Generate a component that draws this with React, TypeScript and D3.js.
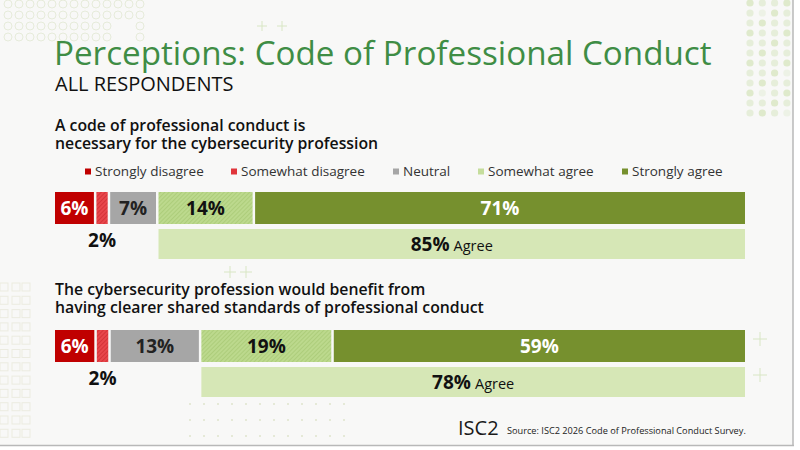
import React from "react";
import * as d3 from "d3";

const categories = ["Strongly disagree", "Somewhat disagree", "Neutral", "Somewhat agree", "Strongly agree"];
const questionLines = [
  ["A code of professional conduct is", "necessary for the cybersecurity profession"],
  ["The cybersecurity profession would benefit from", "having clearer shared standards of professional conduct"],
];
const q1Values = [6, 2, 7, 14, 71];
const q2Values = [6, 2, 13, 19, 59];
const agreeTotals = [85, 78];
const title = "Perceptions: Code of Professional Conduct";
const subtitle = "ALL RESPONDENTS";
const sourceText = "Source: ISC2 2026 Code of Professional Conduct Survey.";

// styling / layout
const W = 800;
const H = 450;
const FONT = "'Open Sans', 'Noto Sans', sans-serif";
const colors = ["#c00000", "url(#hatchRed)", "#a6a6a6", "url(#hatchGreen)", "#76902e"];
const legendColors = ["#c00000", "#e0353b", "#a6a6a6", "#c5dd9c", "#76902e"];
const labelColors = ["#ffffff", "#111111", "#222222", "#111111", "#ffffff"];
const legendX = [85, 231, 393, 478, 622];
const rowTops = [192, 330];
const questionBaselines = [131, 294.5];

function Decorations() {
  const circles: JSX.Element[] = [];
  d3.range(0, 13).forEach((i) =>
    d3.range(0, 4).forEach((j) => {
      if (j > 1 && i > 9 && i < 12) return;
      circles.push(
        <circle key={`c${i}-${j}`} cx={8 + i * 11} cy={4 + j * 11} r={4} fill="none" stroke="#e6ebda" strokeWidth={1} />
      );
    })
  );
  const squares: JSX.Element[] = [];
  d3.range(0, 12).forEach((j) =>
    [0, 12, 22].forEach((x, i) =>
      squares.push(
        <rect key={`s${i}-${j}`} x={x} y={283 + j * 13.3} width={8} height={8} fill="none" stroke="#ebebe0" strokeWidth={1} />
      )
    )
  );
  const dots: JSX.Element[] = [];
  d3.range(0, 4).forEach((i) =>
    d3.range(0, 12).forEach((j) => {
      const op = (i + j) % 3 === 0 ? 0.9 : (i * j) % 4 === 1 ? 0.35 : 0.6;
      dots.push(<circle key={`d${i}-${j}`} cx={750 + i * 12.3} cy={3 + j * 10} r={3.6} fill="#dbe8c6" opacity={op} />);
    })
  );
  const small: JSX.Element[] = [];
  d3.range(0, 12).forEach((i) =>
    d3.range(0, 3).forEach((j) =>
      small.push(<circle key={`m${i}-${j}`} cx={190 + i * 14} cy={404 + j * 16} r={1} fill="#dfe4cc" />)
    )
  );
  const plus = (x: number, y: number, k: string, s = 6) => (
    <g key={k} stroke="#d8e6c4" strokeWidth={1}>
      <line x1={x - s} x2={x + s} y1={y} y2={y} />
      <line x1={x} x2={x} y1={y - s} y2={y + s} />
    </g>
  );
  return (
    <g>
      {circles}
      {squares}
      {dots}
      {small}
      {plus(262, 26, "p1", 5)}
      {plus(282, 26, "p2", 5)}
      {plus(760, 339, "p3", 7)}
      {plus(760, 375, "p4", 7)}
      {plus(230, 272, "p5", 6)}
      {plus(246, 272, "p6", 6)}
    </g>
  );
}

function Row({ values, idx }: { values: number[]; idx: number }) {
  const total = d3.sum(values);
  const x = d3.scaleLinear().domain([0, total]).range([55, 745]);
  const cum = d3.cumsum(values);
  const starts = values.map((v, i) => cum[i] - v);
  const top = rowTops[idx];
  const barH = 32;
  const gap = 2.5;
  const agreeTop = top + 37;
  const agreeH = 30;
  const agreeStart = x(starts[3]);
  const agreeEnd = x(total);
  return (
    <g>
      <text y={questionBaselines[idx]} fontSize={15.8} fontWeight={600} fill="#111" fontFamily={FONT}>
        {questionLines[idx].map((t, i) => (
          <tspan key={i} x={55} dy={i === 0 ? 0 : 18}>
            {t}
          </tspan>
        ))}
      </text>
      {values.map((v, i) => {
        const x0 = x(starts[i]);
        const x1 = x(cum[i]) - (i < values.length - 1 ? gap : 0);
        const cx = (x0 + x1) / 2;
        return (
          <g key={i}>
            <rect x={x0} y={top} width={x1 - x0} height={barH} fill={colors[i]} />
            {i === 1 ? (
              <text x={cx} y={top + barH + 23} textAnchor="middle" fontSize={19} fontWeight={700} fill="#111" fontFamily={FONT}>
                {v}%
              </text>
            ) : (
              <text x={cx} y={top + barH / 2 + 7} textAnchor="middle" fontSize={19} fontWeight={700} fill={labelColors[i]} fontFamily={FONT}>
                {v}%
              </text>
            )}
          </g>
        );
      })}
      <rect x={agreeStart} y={agreeTop} width={agreeEnd - agreeStart} height={agreeH} fill="#d6e7b6" />
      <text x={(agreeStart + agreeEnd) / 2} y={agreeTop + agreeH / 2 + 6.5} textAnchor="middle" fontFamily={FONT} fill="#111">
        <tspan fontSize={19} fontWeight={700}>{agreeTotals[idx]}%</tspan>
        <tspan fontSize={14.5} dx={4}>Agree</tspan>
      </text>
    </g>
  );
}

export default function App() {
  return (
    <svg width={W} height={H} style={{ position: "absolute", left: 0, top: 0, display: "block" }}>
      <defs>
        <pattern id="hatchRed" patternUnits="userSpaceOnUse" width={3} height={3} patternTransform="rotate(45)">
          <rect width={3} height={3} fill="#e8464b" />
          <line x1={0} y1={0} x2={0} y2={3} stroke="#c8262b" strokeWidth={1.2} />
        </pattern>
        <pattern id="hatchGreen" patternUnits="userSpaceOnUse" width={3} height={3} patternTransform="rotate(45)">
          <rect width={3} height={3} fill="#bcd98d" />
          <line x1={0} y1={0} x2={0} y2={3} stroke="#9fc26a" strokeWidth={1} />
        </pattern>
      </defs>
      <rect x={0} y={0} width={W} height={H} fill="#ffffff" />
      <rect x={0} y={0} width={793} height={445} fill="#f8f8f7" />
      <line x1={793} x2={793} y1={0} y2={446} stroke="#b8b8b8" strokeWidth={1.5} />
      <line x1={0} x2={794} y1={445.5} y2={445.5} stroke="#b8b8b8" strokeWidth={1.5} />
      <Decorations />
      <text y={65} fontFamily={FONT}>
        <tspan x={54} fontSize={33.2} fill="#3f8d45">
          {title}
        </tspan>
        <tspan x={55} dy={26} fontSize={20} fill="#111">
          {subtitle}
        </tspan>
      </text>
      {categories.map((c, i) => (
        <g key={c}>
          <rect x={legendX[i]} y={168.5} width={6} height={6} fill={legendColors[i]} />
          <text x={legendX[i] + 10} y={176} fontSize={13.5} fill="#333" fontFamily={FONT}>
            {c}
          </text>
        </g>
      ))}
      <Row values={q1Values} idx={0} />
      <Row values={q2Values} idx={1} />
      <text x={458} y={435} fontSize={20} fill="#1a1a1a" fontFamily={FONT}>
        ISC2
      </text>
      <text x={507} y={433.5} fontSize={9.2} fill="#222" fontFamily={FONT}>
        {sourceText}
      </text>
    </svg>
  );
}
